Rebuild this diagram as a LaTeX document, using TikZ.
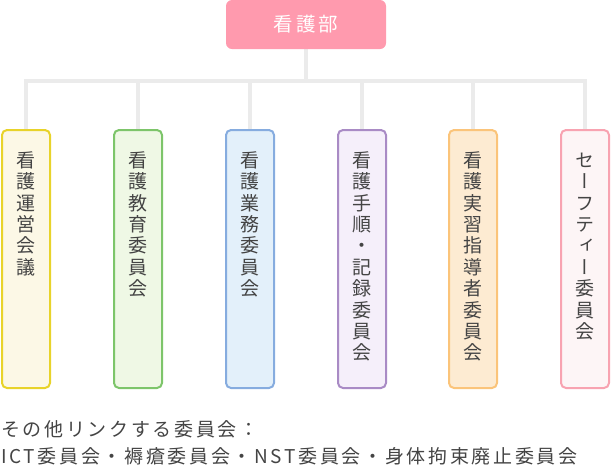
\documentclass[tikz,border=0pt]{standalone}
\usepackage{fontspec}
\newfontfamily\jp[LetterSpace=14]{Noto Sans CJK JP}
\newfontfamily\jpt[LetterSpace=16]{Noto Sans CJK JP}
\newfontfamily\jpv[RawFeature=+vert]{Noto Sans CJK JP}
\usetikzlibrary{backgrounds}
\definecolor{txt}{HTML}{444444}
\definecolor{linec}{HTML}{EBEBEB}
\definecolor{topfill}{HTML}{FF9AAE}
\definecolor{bdA}{HTML}{E8D32A}\definecolor{fiA}{HTML}{FCF8E6}
\definecolor{bdB}{HTML}{7DC56A}\definecolor{fiB}{HTML}{EFF8E5}
\definecolor{bdC}{HTML}{86ACDF}\definecolor{fiC}{HTML}{E3F0FA}
\definecolor{bdD}{HTML}{A98BC5}\definecolor{fiD}{HTML}{F5EFFA}
\definecolor{bdE}{HTML}{FBC47A}\definecolor{fiE}{HTML}{FDEBD2}
\definecolor{bdF}{HTML}{F8A3B1}\definecolor{fiF}{HTML}{FDF5F6}
\newcommand\vcol[4]{%
  \node[cbox,draw=bd#2,fill=fi#2,name=#1] at (#3,259) {};
  \foreach \c [count=\i] in {#4}
    \node[vch,name=#1c\i] at (#3,{160+21.4*(\i-1)+7.2}) {\c};
}
\begin{document}
\begin{tikzpicture}[x=1pt,y=-1pt,
  cbox/.style={rectangle,rounded corners=5pt,line width=2pt,minimum width=48pt,minimum height=258pt,inner sep=0pt},
  vch/.style={anchor=base,inner sep=0pt,text=txt,font=\jpv\fontsize{19}{19}\selectfont},
  conn/.style={draw=linec,line width=4pt},
  topbox/.style={rectangle,rounded corners=6pt,fill=topfill,minimum width=160pt,minimum height=49pt,inner sep=0pt,text=white,font=\jpt\fontsize{19.5}{19.5}\selectfont},
  note/.style={anchor=west,inner sep=0pt,text=txt,font=\jp\fontsize{19}{19}\selectfont}]
\useasboundingbox (0,0) rectangle (611,467);
\node[topbox] (top) at (306,24.5) {看護部};
\vcol{b1}{A}{26}{看,護,運,営,会,議}
\vcol{b2}{B}{138}{看,護,教,育,委,員,会}
\vcol{b3}{C}{250}{看,護,業,務,委,員,会}
\vcol{b4}{D}{362}{看,護,手,順,・,記,録,委,員,会}
\vcol{b5}{E}{473}{看,護,実,習,指,導,者,委,員,会}
\vcol{b6}{F}{585}{セ,ー,フ,テ,ィ,ー,委,員,会}
\coordinate (hub) at (306,81);
\begin{scope}[on background layer]
\draw[conn] (top.south) -- (hub);
\draw[conn] (b1.north) |- (hub) -| (b6.north);
\draw[conn] (b2.north) -- (b2.north |- hub);
\draw[conn] (b3.north) -- (b3.north |- hub);
\draw[conn] (b4.north) -- (b4.north |- hub);
\draw[conn] (b5.north) -- (b5.north |- hub);
\end{scope}
\node[note] (n1) at (1,429) {その他リンクする委員会：};
\node[note] (n2) at (1,456) {ICT委員会・褥瘡委員会・NST委員会・身体拘束廃止委員会};
\end{tikzpicture}
\end{document}
